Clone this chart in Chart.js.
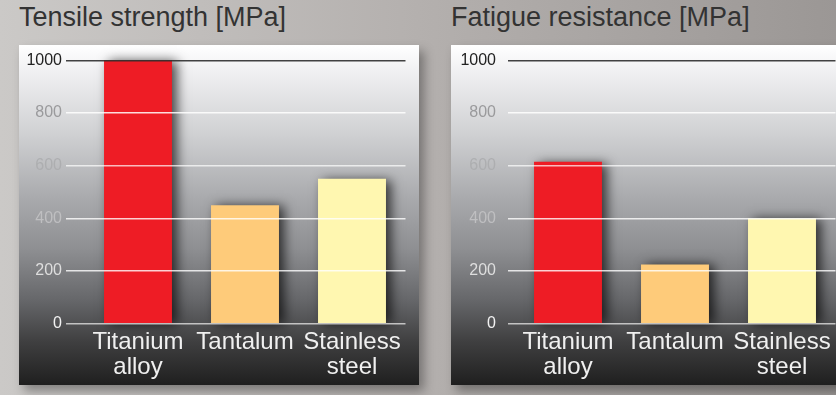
<!DOCTYPE html>
<html>
<head>
<meta charset="utf-8">
<script src="https://cdn.jsdelivr.net/npm/chart.js@4/dist/chart.umd.min.js"></script>
<style>
  html, body { margin: 0; padding: 0; }
  body {
    width: 836px; height: 395px; overflow: hidden; position: relative;
    background: linear-gradient(90deg, #cbc9c7 0%, #b4b0ae 50%, #9b9795 100%);
    font-family: "Liberation Sans", Arial, Helvetica, sans-serif;
  }
  .title { position: absolute; top: 4px; font-size: 27px; line-height: 26px; color: #333; white-space: nowrap; }
  .panel {
    position: absolute; top: 45px; width: 400px; height: 340px;
    background: linear-gradient(180deg, #ffffff 0%, #ececee 10%, #d2d3d5 25%, #a9aaad 45%, #8e8f92 60%, #66676a 75%, #404041 87%, #1f1f1f 100%);
    box-shadow: 5px 6px 10px rgba(0,0,0,0.35);
  }
  .panel canvas { position: absolute; left: 0; top: 0; }
</style>
</head>
<body>
<div class="title" id="t1" style="left:19px"></div>
<div class="title" id="t2" style="left:451px"></div>
<div class="panel" style="left:19px"><canvas id="tensile" width="400" height="340"></canvas></div>
<div class="panel" style="left:451px"><canvas id="fatigue" width="400" height="340"></canvas></div>

<script>
// --- Data ---
const titles = ['Tensile strength [MPa]', 'Fatigue resistance [MPa]'];
const categories = [['Titanium', 'alloy'], 'Tantalum', ['Stainless', 'steel']];
const tensileValues = [1000, 450, 550];
const fatigueValues = [615, 225, 400];
const barColors = ['#ee1c25', '#fecb7a', '#fff7b0'];
const yTicks = [0, 200, 400, 600, 800, 1000];

// per-tick styling (labels fade out as the background darkens)
const gridColors = {
  0: 'rgba(215,215,215,0.85)', 200: 'rgba(255,255,255,0.8)', 400: 'rgba(255,255,255,0.8)',
  600: 'rgba(255,255,255,0.7)', 800: 'rgba(255,255,255,0.85)', 1000: 'rgba(45,45,45,0.9)'
};
const labelColors = { 0: '#f2f2f2', 200: '#dedede', 400: '#bfbfc1', 600: '#adaeb0', 800: '#9a9a9c', 1000: '#222222' };

document.getElementById('t1').innerText = titles[0];
document.getElementById('t2').innerText = titles[1];

const barShadow = {
  id: 'barShadow',
  beforeDatasetsDraw(chart) {
    const c = chart.ctx;
    c.save();
    c.shadowColor = 'rgba(0,0,0,0.7)';
    c.shadowBlur = 11;
    c.shadowOffsetX = 5;
    c.shadowOffsetY = 1;
  },
  afterDatasetsDraw(chart) { chart.ctx.restore(); }
};

function makeChart(id, values, yWidth, padRight, tickLen, labelPad) {
  return new Chart(document.getElementById(id), {
    type: 'bar',
    data: {
      labels: categories,
      datasets: [{ data: values, backgroundColor: barColors, borderWidth: 0, clip: false,
        barPercentage: 0.635, categoryPercentage: 1 }]
    },
    options: {
      responsive: false,
      animation: false,
      layout: { padding: { top: 15.3, right: padRight, left: 0, bottom: 0 } },
      plugins: { legend: { display: false }, tooltip: { enabled: false } },
      scales: {
        x: {
          grid: { display: false, drawTicks: false },
          border: { display: false },
          ticks: { color: '#f0f0f0', padding: 6, maxRotation: 0, autoSkip: false,
            font: { family: '"Liberation Sans", Arial, sans-serif', size: 24, lineHeight: 1.04 } },
          afterFit: s => { s.height = 61.3; s.paddingLeft = 0; s.paddingRight = 0; }
        },
        y: {
          min: 0, max: 1000,
          afterBuildTicks: s => { s.ticks = yTicks.map(v => ({ value: v })); },
          grid: { z: 1, lineWidth: 1.5, tickLength: tickLen, color: c => gridColors[c.tick.value] },
          border: { display: false },
          ticks: { padding: labelPad, color: c => labelColors[c.tick.value],
            callback: v => String(v),
            font: { family: '"Liberation Sans", Arial, sans-serif', size: 16 } },
          afterFit: s => { s.width = yWidth; s.paddingTop = 0; s.paddingBottom = 0; }
        }
      }
    },
    plugins: [barShadow]
  });
}

makeChart('tensile', tensileValues, 65.5, 13.5, 18.5, 4);
makeChart('fatigue', fatigueValues, 63.5, 15.5, 6.5, 12);
</script>
</body>
</html>
